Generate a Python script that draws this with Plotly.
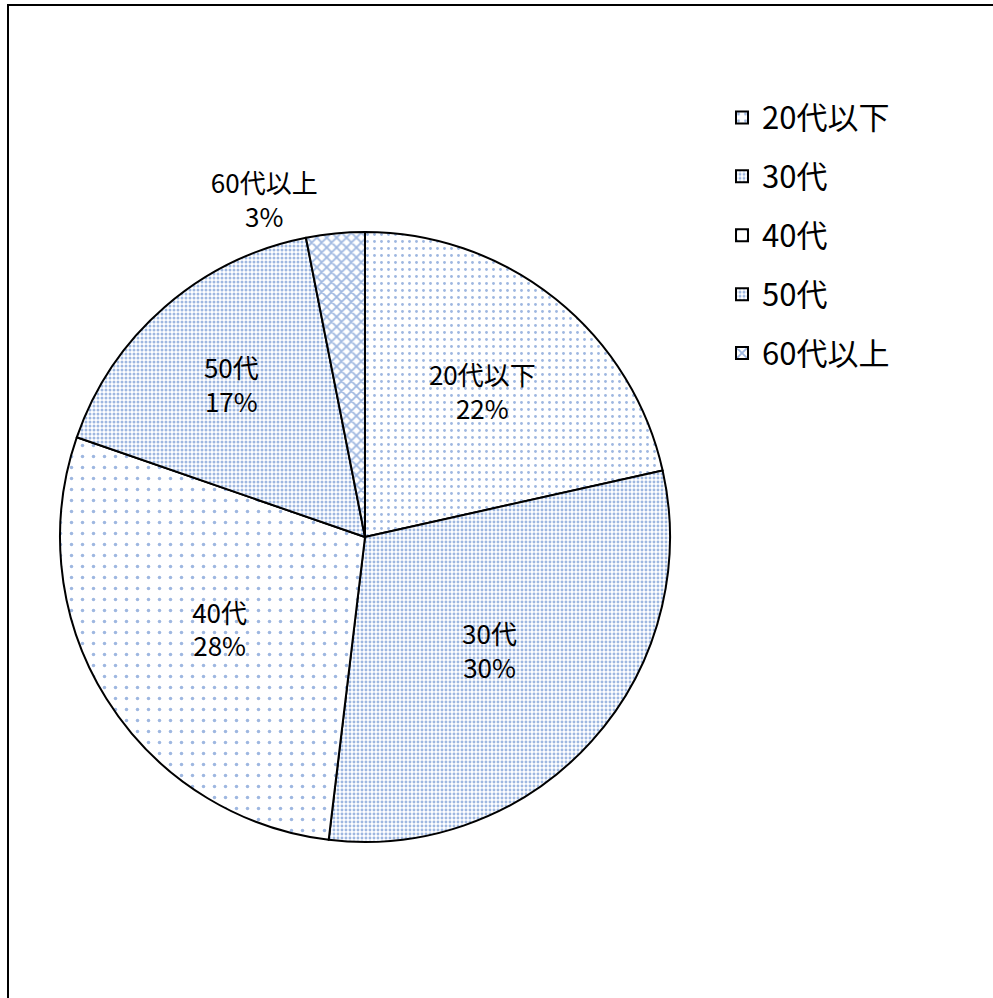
import plotly.graph_objects as go

labels = ["20代以下", "30代", "40代", "50代", "60代以上"]
values = [21.5, 30.4, 28.4, 16.6, 3.1]
text_positions = ["inside", "inside", "inside", "inside", "outside"]
pattern_shapes = [".", ".", ".", ".", "x"]
pattern_sizes = [7, 4, 11, 4, 7]
pattern_solidity = [0.13, 0.42, 0.08, 0.45, 0.45]

FONT = "Noto Sans CJK JP"
BLUE = "#3D6FC2"
W, H = 993, 998

cx, cy, r = 365, 537, 305

fig = go.Figure()
fig.add_trace(go.Pie(
    labels=[f'<span style="font-size:31px;baseline-shift:5px">{l}</span>' for l in labels],
    values=values,
    sort=False,
    direction="clockwise",
    rotation=0,
    text=labels,
    texttemplate="%{text}<br>%{percent:.0%}",
    textposition=text_positions,
    insidetextorientation="horizontal",
    textfont=dict(family=FONT, size=26, color="black"),
    marker=dict(
        colors=["white"] * 5,
        line=dict(color="black", width=2),
        pattern=dict(
            shape=pattern_shapes,
            size=pattern_sizes,
            solidity=pattern_solidity,
            fgcolor=BLUE,
            bgcolor="white",
            fillmode="overlay",
        ),
    ),
    domain=dict(x=[(cx - r) / W, (cx + r) / W], y=[(H - cy - r) / H, (H - cy + r) / H]),
    hoverinfo="label+percent",
))

fig.update_layout(
    width=W, height=H,
    margin=dict(l=0, r=0, t=0, b=0),
    paper_bgcolor="white",
    plot_bgcolor="white",
    font=dict(family=FONT, color="black"),
    uniformtext=dict(minsize=26, mode="show"),
    showlegend=True,
    legend=dict(
        x=722 / W, y=1 - 83 / H, xanchor="left", yanchor="top",
        font=dict(family=FONT, size=43, color="black"),
        bgcolor="rgba(0,0,0,0)",
    ),
    shapes=[dict(
        type="rect", xref="paper", yref="paper",
        x0=8 / W, x1=1.02, y0=-0.02, y1=1 - 5 / H,
        line=dict(color="black", width=2), fillcolor="rgba(0,0,0,0)",
    )],
)

fig.write_html("out.html")
